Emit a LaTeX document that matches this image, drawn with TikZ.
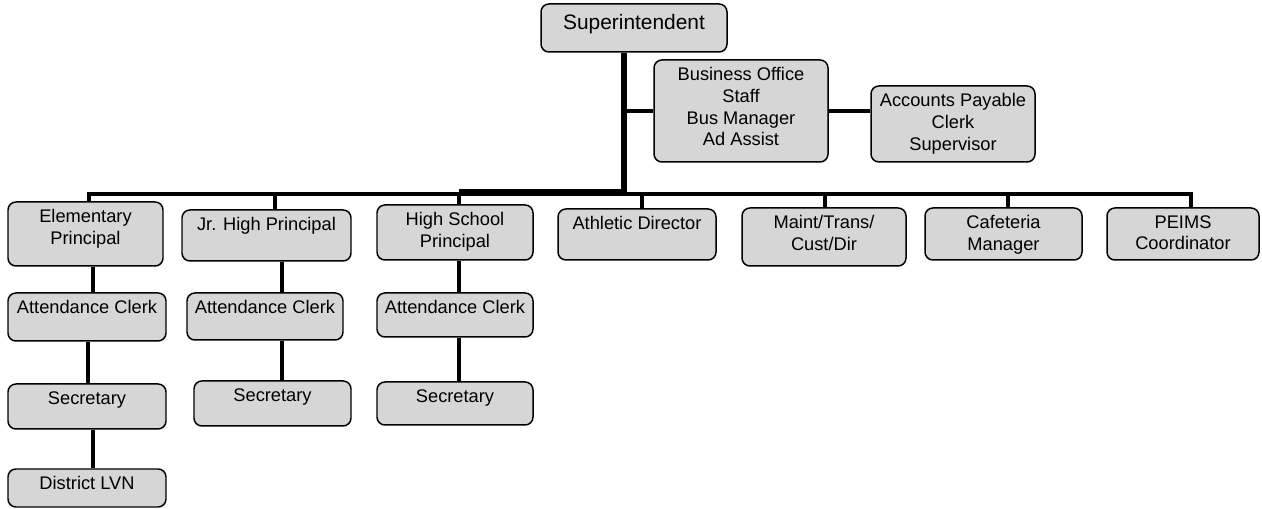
\documentclass[tikz,border=0pt]{standalone}
\usepackage{fontspec}
\setmainfont{Liberation Sans}
\usepackage{xcolor}
\usetikzlibrary{positioning,calc,fit}

\definecolor{boxgray}{RGB}{214,214,214}
\tikzset{
  orgbox/.style={draw=black, line width=0.85pt, fill=boxgray, rounded corners=4.5pt, inner sep=0pt},
  orgtext/.style={anchor=north, inner sep=0pt, align=center, font=\fontsize{10.4}{12.3}\selectfont},
  link/.style={line width=2.8pt},
  trunk/.style={line width=3.4pt},
}
% box from corner (x1,y1) to (x2,y2), text near the top
\newcommand{\orgbox}[6]{%
  \node[orgbox, fit={(#2,#3) (#4,#5)}] (#1) {};
  \node[orgtext] (#1-text) at ($(#1.north)+(0,8)$) {#6};
}

\begin{document}
\begin{tikzpicture}[x=0.02cm,y=-0.02cm]
	\useasboundingbox (0,0) rectangle (1262,509);
	
	\node[orgbox, fit={(541,4) (727,52)}] (super) {};
	\node[orgtext, font=\fontsize{11.9}{14}\selectfont] (super-text) at ($(super.north)+(0,11)$) {Superintendent};
	
	\orgbox{bizoff}{654}{60}{828}{162}{Business Office\\Staff\\Bus Manager\\Ad Assist}
	\orgbox{acctpay}{871}{86}{1035}{162}{Accounts Payable\\Clerk\\Supervisor}
	
	\orgbox{elem}{8}{202}{163}{266}{Elementary\\Principal}
	\orgbox{jrhigh}{182}{210}{351}{261}{Jr. High Principal}
	\orgbox{highsch}{377}{205}{533}{260}{High School\\Principal}
	\orgbox{athletic}{558}{209}{716}{260}{Athletic Director}
	\orgbox{maint}{742}{208}{906}{266}{Maint/Trans/\\Cust/Dir}
	\orgbox{cafe}{925}{208}{1082}{260}{Cafeteria\\Manager}
	\orgbox{peims}{1107}{208}{1259}{260}{PEIMS\\Coordinator}
	
	\orgbox{elemattn}{8}{293}{166}{341}{Attendance Clerk}
	\orgbox{jrattn}{187}{293}{343}{340}{Attendance Clerk}
	\orgbox{hsattn}{377}{293}{533}{337}{Attendance Clerk}
	
	\orgbox{elemsec}{8}{384}{166}{429}{Secretary}
	\orgbox{jrsec}{194}{381}{351}{426}{Secretary}
	\orgbox{hssec}{377}{382}{533}{425}{Secretary}
	
	\orgbox{lvn}{8}{469}{166}{507}{District LVN}
	
	\coordinate (hub) at (624,194);
	
	\draw[trunk] (super.south -| hub) -- (hub);
	\draw[link] (bizoff.west -| hub) -- (bizoff.west);
	\draw[link] (bizoff.east) -- (bizoff.east -| acctpay.west);
	
	% bus and drops
	\draw[link] (elem.north -| 89,0) -- (hub -| 89,0) -- (hub -| 1191,0) -- (peims.north -| 1191,0);
	\draw[line width=4.5pt] ([yshift=0.85pt]hub) -- ([yshift=0.85pt]hub -| 459,0);
	\foreach \n/\x in {jrhigh/275, highsch/459, athletic/642, maint/825, cafe/1008} {
		\draw[link] (\n.north -| \x,0) -- (hub -| \x,0);
	}
	
	\foreach \a/\b/\x in {elem/elemattn/93, elemattn/elemsec/88, elemsec/lvn/93,
		jrhigh/jrattn/282, jrattn/jrsec/282, highsch/hsattn/459, hsattn/hssec/459} {
		\draw[link] (\a.south -| \x,0) -- (\b.north -| \x,0);
	}
\end{tikzpicture}
\end{document}
